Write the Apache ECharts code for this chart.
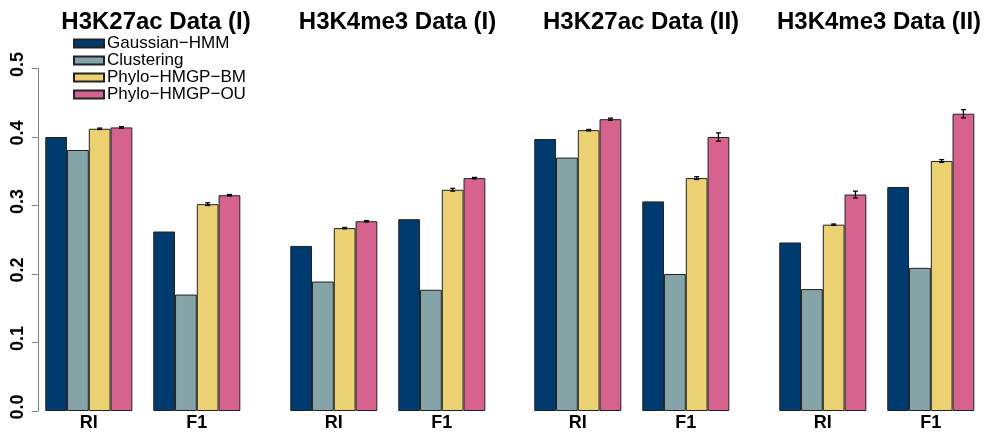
<!DOCTYPE html>
<html>
<head>
<meta charset="utf-8">
<script src="https://cdn.jsdelivr.net/npm/echarts@6/dist/echarts.min.js"></script>
<style>html,body{margin:0;padding:0;background:#fff}#chart{width:992px;height:436px}</style>
</head>
<body>
<div id="chart"></div>
<script>
// ---- data ----
const panelTitles = ['H3K27ac Data (I)', 'H3K4me3 Data (I)', 'H3K27ac Data (II)', 'H3K4me3 Data (II)'];
const categories = ['RI', 'F1'];
const methods = ['Gaussian\u2212HMM', 'Clustering', 'Phylo\u2212HMGP\u2212BM', 'Phylo\u2212HMGP\u2212OU'];
const yTickLabels = ['0.0', '0.1', '0.2', '0.3', '0.4', '0.5'];

// values per panel: [RI, F1]
const gaussianHMM = [[0.400, 0.262], [0.241, 0.280], [0.397, 0.306], [0.246, 0.327]];
const clustering  = [[0.381, 0.170], [0.189, 0.177], [0.370, 0.200], [0.178, 0.209]];
const phyloBM     = [[0.412, 0.302], [0.267, 0.323], [0.410, 0.340], [0.272, 0.365]];
const phyloOU     = [[0.414, 0.315], [0.277, 0.340], [0.426, 0.400], [0.316, 0.434]];

// error half-widths per panel: [RI, F1]
const gaussianErr = [[0, 0], [0, 0], [0, 0], [0, 0]];
const clusteringErr = [[0, 0], [0, 0], [0, 0], [0, 0]];
const phyloBMErr  = [[0.001, 0.002], [0.001, 0.002], [0.001, 0.002], [0.001, 0.002]];
const phyloOUErr  = [[0.001, 0.001], [0.001, 0.001], [0.0015, 0.006], [0.005, 0.006]];

// ---- styling / layout ----
const colors = ['#003b70', '#84a4a8', '#ecd173', '#d6628e'];
const FONT = '"Liberation Sans", Arial, Helvetica, sans-serif';
const gridLefts = [34.8, 279.8, 523.8, 768.8];
const gridWidth = 216;
const titleCenters = [156, 397.5, 641, 879];
const catGap = 0.194;

const values = [gaussianHMM, clustering, phyloBM, phyloOU];
const errors = [gaussianErr, clusteringErr, phyloBMErr, phyloOUErr];

const grids = [], xAxes = [], yAxes = [], series = [], titles = [];
for (let p = 0; p < 4; p++) {
  grids.push({left: gridLefts[p], width: gridWidth, top: 68.5, bottom: 25, containLabel: false});
  xAxes.push({
    type: 'category', gridIndex: p, data: categories,
    axisLine: {show: false}, axisTick: {show: false},
    axisLabel: {color: '#000', fontWeight: 'bold', fontSize: 18, fontFamily: FONT, margin: 3}
  });
  yAxes.push({
    type: 'value', gridIndex: p, min: 0, max: 0.5, interval: 0.1,
    show: p === 0, offset: -3,
    splitLine: {show: false},
    axisLine: {show: p === 0, lineStyle: {color: '#7f7f7f', width: 1}},
    axisTick: {show: p === 0, length: 6, lineStyle: {color: '#7f7f7f'}},
    axisLabel: {
      show: p === 0, rotate: 90, color: '#000', fontWeight: 'bold', fontSize: 18, fontFamily: FONT, margin: 11,
      padding: [0, 0, 0, 8],
      formatter: (v) => yTickLabels[Math.round(v * 10)]
    }
  });
  titles.push({
    text: panelTitles[p], left: titleCenters[p], top: 10, textAlign: 'center', padding: 0,
    textStyle: {color: '#000', fontWeight: 'bold', fontSize: 24, fontFamily: FONT}
  });
  for (let m = 0; m < 4; m++) {
    series.push({
      type: 'bar', name: methods[m], xAxisIndex: p, yAxisIndex: p,
      data: values[m][p], barGap: '0%', barCategoryGap: (catGap * 100) + '%',
      itemStyle: {color: colors[m], borderColor: '#222', borderWidth: 1},
      emphasis: {disabled: true}, animation: false
    });
  }
  const errData = [];
  for (let m = 0; m < 4; m++) {
    for (let c = 0; c < 2; c++) {
      if (errors[m][p][c] > 0) errData.push([c, values[m][p][c], errors[m][p][c], m]);
    }
  }
  series.push({
    type: 'custom', xAxisIndex: p, yAxisIndex: p, z: 5, animation: false, silent: true,
    data: errData,
    renderItem: function (params, api) {
      const c = api.value(0), v = api.value(1), e = api.value(2), m = api.value(3);
      const band = api.size([1, 0])[0];
      const bw = band * (1 - catGap) / 4;
      const x = api.coord([c, v])[0] + (m - 1.5) * bw;
      const yt = api.coord([c, v + e])[1];
      const yb = api.coord([c, v - e])[1];
      const cap = 2.5;
      const st = {stroke: '#000', lineWidth: 1.3};
      return {type: 'group', children: [
        {type: 'line', shape: {x1: x, y1: yt, x2: x, y2: yb}, style: st},
        {type: 'line', shape: {x1: x - cap, y1: yt, x2: x + cap, y2: yt}, style: st},
        {type: 'line', shape: {x1: x - cap, y1: yb, x2: x + cap, y2: yb}, style: st}
      ]};
    }
  });
}

const chart = echarts.init(document.getElementById('chart'), null, {renderer: 'canvas'});
chart.setOption({
  animation: false,
  backgroundColor: '#fff',
  title: titles,
  legend: {
    data: methods, orient: 'vertical', left: 73, top: 35, padding: 0,
    itemWidth: 30, itemHeight: 8, itemGap: 0, icon: 'rect',
    selectedMode: false,
    textStyle: {color: '#000', fontSize: 17, fontFamily: FONT, lineHeight: 16.3, padding: [0, 0, 0, -2]}
  },
  grid: grids, xAxis: xAxes, yAxis: yAxes, series: series
});
</script>
</body>
</html>
